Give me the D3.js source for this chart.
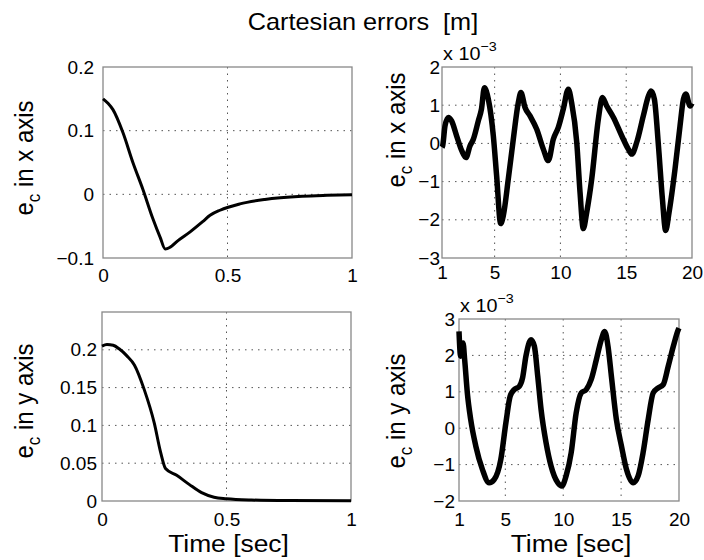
<!DOCTYPE html>
<html>
<head>
<meta charset="utf-8">
<script src="https://cdnjs.cloudflare.com/ajax/libs/d3/7.8.5/d3.min.js"></script>
<style>
  body { margin: 0; background: #fff; }
  svg text { font-family: "Liberation Sans", Arial, sans-serif; fill: #000; white-space: pre; }
  .grid line { stroke: #555; stroke-width: 1; stroke-dasharray: 1.5,5; }
  .box { fill: none; stroke: #888; stroke-width: 1.3; }
</style>
</head>
<body>
<div id="container"></div>
<script>
// x error, first second
const xStartTime = [0, 0.02, 0.04, 0.08, 0.12, 0.16, 0.2, 0.23, 0.25, 0.27, 0.3, 0.35, 0.4, 0.43, 0.47, 0.55, 0.65, 0.8, 0.9, 1.0];
const xStartErr  = [0.150, 0.143, 0.133, 0.097, 0.050, 0.008, -0.038, -0.068, -0.086, -0.083, -0.073, -0.059, -0.043, -0.033, -0.025, -0.015, -0.008, -0.003, -0.0015, -0.0005];

// x error, 1..20 s (units of 1e-3)
const xLongTime = [1, 1.05, 1.23, 1.48, 1.73, 2.11, 2.5, 2.82, 3.13, 3.38, 3.76, 4.0, 4.22, 4.52, 4.9, 5.15, 5.46, 5.66, 6.04, 6.42, 6.8, 7.0, 7.31, 7.69, 8.2, 8.7, 9.08, 9.46, 9.84, 10.22, 10.6, 10.85, 11.24, 11.49, 11.74, 12.0, 12.38, 12.88, 13.19, 13.52, 14.03, 14.66, 15.16, 15.42, 15.8, 16.3, 16.69, 16.89, 17.14, 17.45, 17.75, 18.0, 18.26, 18.71, 19.09, 19.35, 19.53, 19.86, 20];
const xLongErr  = [-0.1, -0.06, 0.46, 0.68, 0.59, 0.2, -0.19, -0.37, -0.06, 0.11, 0.59, 0.9, 1.46, 1.16, 0.2, -0.84, -2.1, -1.89, -0.93, 0.11, 1.07, 1.33, 0.94, 0.72, 0.37, -0.15, -0.45, 0.11, 0.42, 0.9, 1.42, 1.07, 0.03, -1.28, -2.23, -1.8, -0.93, 0.63, 1.2, 0.98, 0.68, 0.2, -0.15, -0.28, 0.03, 0.72, 1.24, 1.37, 1.16, -0.06, -1.45, -2.28, -1.8, -0.67, 0.46, 1.16, 1.29, 0.98, 1.05];

// y error, first second
const yStartTime = [0, 0.02, 0.045, 0.07, 0.1, 0.13, 0.17, 0.21, 0.235, 0.255, 0.3, 0.35, 0.4, 0.45, 0.5, 0.6, 0.75, 1.0];
const yStartErr  = [0.205, 0.207, 0.206, 0.201, 0.192, 0.180, 0.147, 0.103, 0.065, 0.043, 0.034, 0.022, 0.011, 0.005, 0.003, 0.0013, 0.0005, 0.0002];

// y error, 1..20 s (units of 1e-3)
const yLongTime = [1, 1.14, 1.35, 1.49, 1.72, 2.01, 2.45, 3.02, 3.6, 4.04, 4.61, 5.05, 5.42, 5.77, 6.21, 6.49, 6.78, 7.22, 7.51, 7.8, 8.09, 8.52, 8.95, 9.53, 9.88, 10.25, 10.69, 11.12, 11.56, 11.99, 12.42, 12.86, 13.29, 13.58, 13.87, 14.16, 14.59, 15.03, 15.46, 16.04, 16.47, 16.9, 17.34, 17.77, 18.21, 18.64, 19.07, 19.51, 19.94, 20];
const yLongErr  = [2.66, 1.98, 2.34, 1.88, 0.97, 0.24, -0.49, -1.13, -1.5, -1.41, -0.86, 0.15, 0.88, 1.06, 1.15, 1.38, 1.98, 2.43, 2.25, 1.43, 0.51, -0.4, -1.04, -1.5, -1.59, -1.31, -0.67, 0.42, 0.97, 1.06, 1.34, 1.88, 2.43, 2.66, 2.25, 1.43, 0.24, -0.49, -1.13, -1.5, -1.31, -0.67, 0.24, 0.97, 1.11, 1.2, 1.7, 2.25, 2.71, 2.75];

const startTicks = [0, 0.5, 1];
const longTicks = [1, 5, 10, 15, 20];
const xStartYTicks = [-0.1, 0, 0.1, 0.2];
const xLongYTicks = [-3, -2, -1, 0, 1, 2];
const yStartYTicks = [0, 0.05, 0.1, 0.15, 0.2];
const yLongYTicks = [-2, -1, 0, 1, 2, 3];

const w = 704, h = 560;
const tickFont = 19, labelFont = 24, stretch = 1.1;

const panels = [
    {left: 103, right: 352, top: 67, bottom: 258, xDom: [0, 1], yDom: [-0.1, 0.2],
     xTicks: startTicks, yTicks: xStartYTicks, time: xStartTime, err: xStartErr,
     xPad: 11, yPad: 9, lw: 3, axis: "x", labX: 33, labY: 158, xlabel: false, mult: false},
    {left: 442, right: 692, top: 67, bottom: 258, xDom: [1, 20], yDom: [-3, 2],
     xTicks: longTicks, yTicks: xLongYTicks, time: xLongTime, err: xLongErr,
     xPad: 8, yPad: 2, lw: 5.5, axis: "x", labX: 405, labY: 130, xlabel: false, mult: true},
    {left: 102, right: 351, top: 312, bottom: 501, xDom: [0, 1], yDom: [0, 0.25],
     xTicks: startTicks, yTicks: yStartYTicks, time: yStartTime, err: yStartErr,
     xPad: 12, yPad: 5, lw: 3, axis: "y", labX: 33, labY: 401, xlabel: true, mult: false},
    {left: 459, right: 679, top: 319, bottom: 501, xDom: [1, 20], yDom: [-2, 3],
     xTicks: longTicks, yTicks: yLongYTicks, time: yLongTime, err: yLongErr,
     xPad: 12, yPad: 4, lw: 5.5, axis: "y", labX: 405, labY: 411, xlabel: true, mult: true}
];

let svg = d3.select("#container")
    .append("svg")
    .attr("width", w)
    .attr("height", h);

svg.append("text")
    .attr("transform", "translate(363,30) scale(" + stretch + ",1)")
    .attr("text-anchor", "middle")
    .style("font-size", "23px")
    .text("Cartesian errors  [m]");

const fmt = d3.format("~g");

panels.forEach((p) => {
    const x = d3.scaleLinear().domain(p.xDom).range([p.left, p.right]);
    const y = d3.scaleLinear().domain(p.yDom).range([p.bottom, p.top]);

    // grid
    let grid = svg.append("g").attr("class", "grid");
    grid.selectAll(".gx")
        .data(p.xTicks.filter((d) => d > p.xDom[0] && d < p.xDom[1]))
        .enter().append("line")
        .attr("x1", (d) => x(d)).attr("x2", (d) => x(d))
        .attr("y1", p.top).attr("y2", p.bottom);
    grid.selectAll(".gy")
        .data(p.yTicks.filter((d) => d > p.yDom[0] && d < p.yDom[1]))
        .enter().append("line")
        .attr("y1", (d) => y(d)).attr("y2", (d) => y(d))
        .attr("x1", p.left).attr("x2", p.right);

    svg.append("rect")
        .attr("class", "box")
        .attr("x", p.left).attr("y", p.top)
        .attr("width", p.right - p.left).attr("height", p.bottom - p.top);

    const line = d3.line()
        .x((d, i) => x(p.time[i]))
        .y((d) => y(d))
        .curve(d3.curveMonotoneX);

    svg.append("path")
        .datum(p.err)
        .attr("d", line)
        .attr("fill", "none")
        .attr("stroke", "#000")
        .attr("stroke-width", p.lw)
        .attr("stroke-linejoin", "round");

    let gx = svg.append("g")
        .attr("transform", "translate(0," + p.bottom + ")")
        .call(d3.axisBottom(x).tickValues(p.xTicks).tickSize(0).tickPadding(p.xPad).tickFormat(fmt));
    let gy = svg.append("g")
        .attr("transform", "translate(" + p.left + ",0)")
        .call(d3.axisLeft(y).tickValues(p.yTicks).tickSize(0).tickPadding(p.yPad).tickFormat(fmt));
    [gx, gy].forEach((g) => {
        g.select(".domain").remove();
        g.attr("font-family", null).attr("font-size", null);
        g.selectAll("text").style("font-size", tickFont + "px");
    });

    // y label: e_c in ? axis
    let lab = svg.append("text")
        .attr("transform", "translate(" + p.labX + "," + p.labY + ") scale(" + stretch + ",1) rotate(-90)")
        .attr("text-anchor", "middle")
        .style("font-size", labelFont + "px");
    lab.append("tspan").text("e");
    lab.append("tspan").attr("dy", 6).style("font-size", "17px").text("c");
    lab.append("tspan").attr("dy", -6).text(" in " + p.axis + " axis");

    if (p.xlabel) {
        svg.append("text")
            .attr("transform", "translate(" + ((p.left + p.right) / 2 + 2) + ",552) scale(" + stretch + ",1)")
            .attr("text-anchor", "middle")
            .style("font-size", labelFont + "px")
            .text("Time [sec]");
    }

    if (p.mult) {
        let m = svg.append("text")
            .attr("transform", "translate(" + (p.left + 1) + "," + (p.top - 7) + ") scale(" + stretch + ",1)")
            .style("font-size", "18px");
        m.append("tspan").text("x 10");
        m.append("tspan").attr("dy", -9).style("font-size", "13px").text("\u22123");
    }
});
</script>
</body>
</html>
